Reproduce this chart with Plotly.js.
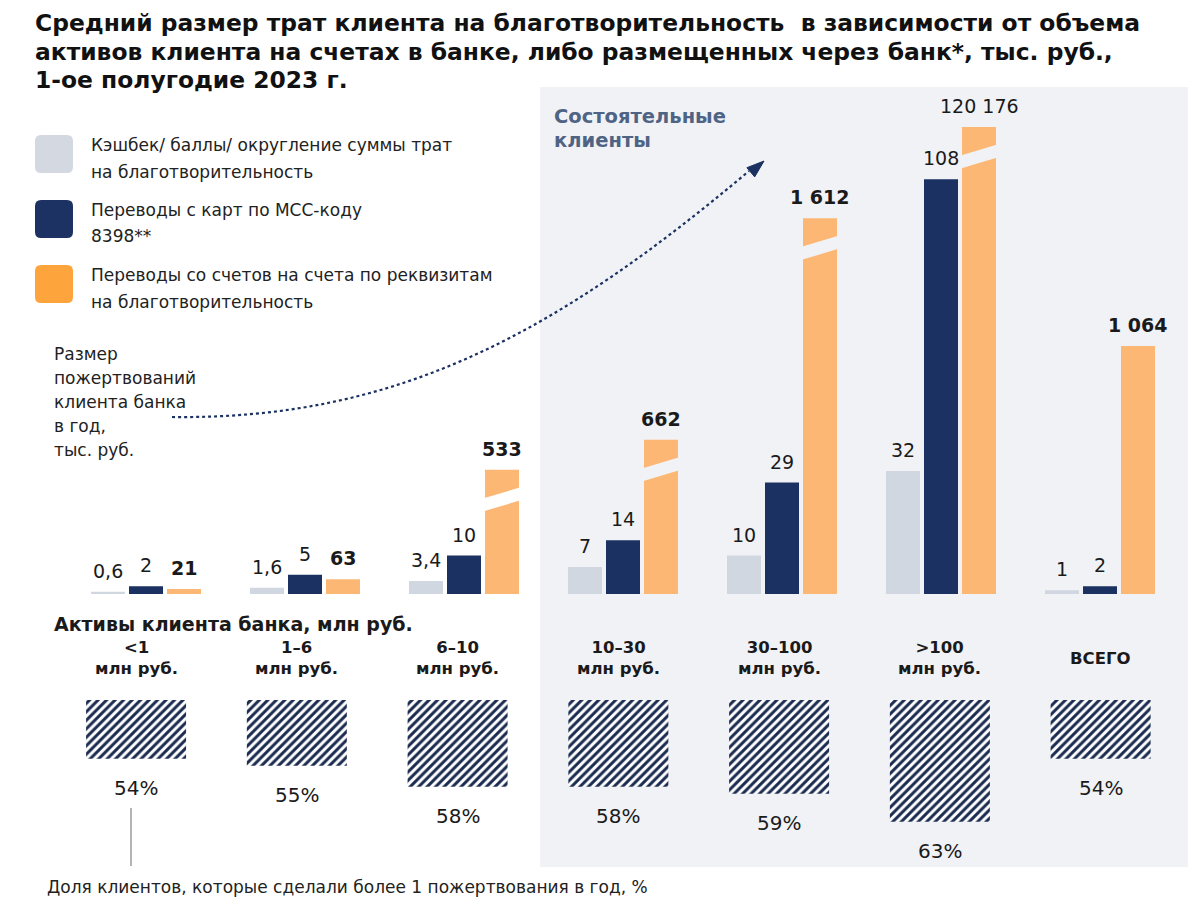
<!DOCTYPE html>
<html>
<head>
<meta charset="utf-8">
<script src="https://cdn.plot.ly/plotly-3.0.1.min.js"></script>
<style>
html,body{margin:0;padding:0;background:#ffffff;}
#chart{width:1200px;height:912px;}
</style>
</head>
<body>
<div id="chart"></div>
<script>
// ---------------- DATA ----------------
const categories = ["<1 млн руб.", "1–6 млн руб.", "6–10 млн руб.", "10–30 млн руб.", "30–100 млн руб.", ">100 млн руб.", "ВСЕГО"];
const categoryLabelLines = [["&lt;1", "млн руб."], ["1–6", "млн руб."], ["6–10", "млн руб."], ["10–30", "млн руб."], ["30–100", "млн руб."], ["&gt;100", "млн руб."], ["ВСЕГО"]];
const cashbackValues = [0.6, 1.6, 3.4, 7, 10, 32, 1];            // тыс. руб.
const mccTransferValues = [2, 5, 10, 14, 29, 108, 2];             // тыс. руб.
const accountTransferValues = [21, 63, 533, 662, 1612, 120176, 1064]; // тыс. руб.
const accountBarHasBreak = [false, false, true, true, true, true, false];
const repeatDonorShare = [54, 55, 58, 58, 59, 63, 54];            // %
const seriesNames = [
  ["Кэшбек/ баллы/ округление суммы трат", "на благотворительность"],
  ["Переводы с карт по МСС-коду", "8398**"],
  ["Переводы со счетов на счета по реквизитам", "на благотворительность"]
];
const titleLines = [
  "Средний размер трат клиента на благотворительность  в зависимости от объема",
  "активов клиента на счетах в банке, либо размещенных через банк*, тыс. руб.,",
  "1-ое полугодие 2023 г."
];
const yAxisNoteLines = ["Размер", "пожертвований", "клиента банка", "в год,", "тыс. руб."];
const wealthyLabelLines = ["Состоятельные", "клиенты"];
const assetsHeading = "Активы клиента банка, млн руб.";
const shareFootnote = "Доля клиентов, которые сделали более 1 пожертвования в год, %";

// broken-axis cut: the tallest orange bar is truncated at this axis value
const ACCOUNT_AXIS_CAP = 2004;
const accountDrawn = accountTransferValues.map(v => Math.min(v, ACCOUNT_AXIS_CAP));

// ---------------- STYLE ----------------
const W = 1200, H = 912;
const px = x => x / W;
const py = y => 1 - y / H;
const FONT = "DejaVu Sans";
const C_LIGHT = "#d1d7e1", C_NAVY = "#1b3161", C_ORANGE = "#fdb774";
const C_LEG_LIGHT = "#d3d8e1", C_LEG_NAVY = "#1b3263", C_LEG_ORANGE = "#fea43c";
const C_PANEL = "#f0f2f6", C_TEXT = "#1a1a1a";

const BAR_W = 0.2138, STEP = 0.239;
const offsets = [-STEP, 0, STEP];

function fmt(v) {
  if (!Number.isInteger(v)) return String(v).replace(".", ",");
  return String(v).replace(/\B(?=(\d{3})+(?!\d))/g, "\u00a0");
}

// ---------------- TRACES ----------------
const traces = [
  {type: "bar", x: categories, y: cashbackValues, xaxis: "x", yaxis: "y", width: BAR_W, offset: offsets[0] - BAR_W / 2,
   marker: {color: C_LIGHT}, name: seriesNames[0].join(" "), hoverinfo: "skip", showlegend: false},
  {type: "bar", x: categories, y: mccTransferValues, xaxis: "x", yaxis: "y", width: BAR_W, offset: offsets[1] - BAR_W / 2,
   marker: {color: C_NAVY}, name: seriesNames[1].join(" "), hoverinfo: "skip", showlegend: false},
  {type: "bar", x: categories, y: accountDrawn, xaxis: "x", yaxis: "y2", width: BAR_W, offset: offsets[2] - BAR_W / 2,
   marker: {color: C_ORANGE}, name: seriesNames[2].join(" "), hoverinfo: "skip", showlegend: false},
  {type: "bar", x: categories, y: repeatDonorShare, xaxis: "x2", yaxis: "y3", width: 0.622,
   marker: {color: "#ffffff", pattern: {shape: "/", fgcolor: "#1b2b4f", bgcolor: "#ffffff", size: 6, solidity: 0.5}},
   name: "Доля клиентов", hoverinfo: "skip", showlegend: false}
];

// ---------------- ANNOTATIONS ----------------
const annotations = [];
function txt(x, y, text, size, weight, color) {
  annotations.push({xref: "paper", yref: "paper", x: px(x), y: py(y), text: text, showarrow: false,
    xanchor: "left", yanchor: "middle", align: "left",
    font: {family: FONT, size: size, weight: weight || 400, color: color || "#222222"}});
}

// title
titleLines.forEach((l, j) => txt(33, [23, 52, 80][j], l, 23.4, 700, "#111111"));

// value labels above bars
const valueSeries = [cashbackValues, mccTransferValues, accountTransferValues];
valueSeries.forEach((vals, s) => {
  vals.forEach((v, i) => {
    const bold = s === 2 && v <= ACCOUNT_AXIS_CAP;
    annotations.push({xref: "x", yref: s < 2 ? "y" : "y2", x: i + offsets[s], y: s < 2 ? v : accountDrawn[i],
      yshift: 21, text: bold ? "<b>" + fmt(v) + "</b>" : fmt(v), showarrow: false, xanchor: "center", yanchor: "middle",
      font: {family: FONT, size: 19, color: C_TEXT}});
  });
});

// percentage labels below hatch bars
repeatDonorShare.forEach((p, i) => {
  annotations.push({xref: "x2", yref: "y3", x: categories[i], y: p, yshift: -29, text: p + "%", showarrow: false,
    xanchor: "center", yanchor: "middle", font: {family: FONT, size: 20, color: C_TEXT}});
});

// category labels
categoryLabelLines.forEach((lines, i) => {
  annotations.push({xref: "x2", yref: "paper", x: categories[i], y: py(658), text: lines.join("<br>"), showarrow: false,
    xanchor: "center", yanchor: "middle", align: "center", font: {family: FONT, size: 16.5, weight: 700, color: C_TEXT}});
});

// legend texts
const legendLineY = [[145, 172], [210, 236], [275, 302]];
seriesNames.forEach((lines, k) => lines.forEach((l, j) => txt(89, legendLineY[k][j], l, 17)));

// side note
yAxisNoteLines.forEach((l, j) => txt(52, 354 + 24 * j, l, 17));

// wealthy panel title
wealthyLabelLines.forEach((l, j) => txt(552, 117 + 24 * j, l, 19.5, 700, "#4f6384"));

// assets heading
txt(52, 624, assetsHeading, 19, 700, C_TEXT);

// footnote
txt(45, 887, shareFootnote, 17);

// ---------------- SHAPES ----------------
const shapes = [];
// wealthy clients panel
shapes.push({type: "rect", xref: "paper", yref: "paper", x0: px(540), x1: px(1188), y0: py(867), y1: py(87),
  fillcolor: C_PANEL, line: {width: 0}, layer: "below"});

// legend swatches (rounded)
function roundRect(x0, y0, x1, y1, r) {
  const P = (x, y) => px(x) + "," + py(y);
  return "M" + P(x0 + r, y0) + " L" + P(x1 - r, y0) + " Q" + P(x1, y0) + " " + P(x1, y0 + r) +
    " L" + P(x1, y1 - r) + " Q" + P(x1, y1) + " " + P(x1 - r, y1) + " L" + P(x0 + r, y1) +
    " Q" + P(x0, y1) + " " + P(x0, y1 - r) + " L" + P(x0, y0 + r) + " Q" + P(x0, y0) + " " + P(x0 + r, y0) + " Z";
}
[[C_LEG_LIGHT, 135], [C_LEG_NAVY, 200], [C_LEG_ORANGE, 265]].forEach(([c, y]) => {
  shapes.push({type: "path", xref: "paper", yref: "paper", path: roundRect(35, y, 73, y + 38, 6), fillcolor: c, line: {width: 0}});
});

// axis breaks on the orange bars
accountBarHasBreak.forEach((b, i) => {
  if (!b) return;
  shapes.push({type: "path", xref: "x", yref: "y2", xsizemode: "pixel", ysizemode: "pixel",
    xanchor: i + offsets[2], yanchor: accountDrawn[i],
    path: "M-20,-29 L20,-17 L20,-30 L-20,-42 Z",
    fillcolor: i >= 3 ? C_PANEL : "#ffffff", line: {width: 0}});
});

// dotted curved arrow
const P = (x, y) => px(x) + "," + py(y);
shapes.push({type: "path", xref: "paper", yref: "paper",
  path: "M" + P(172, 417) + " C" + P(400, 420) + " " + P(560, 330) + " " + P(749, 171),
  line: {color: C_NAVY, width: 2.2, dash: "dot"}});
shapes.push({type: "path", xref: "paper", yref: "paper",
  path: "M" + P(764, 161) + " L" + P(754.7, 176.9) + " L" + P(746.9, 167.7) + " Z",
  fillcolor: C_NAVY, line: {color: C_NAVY, width: 1}});

// thin leader line for the share footnote
shapes.push({type: "line", xref: "paper", yref: "paper", x0: px(131), x1: px(131), y0: py(808), y1: py(866),
  line: {color: "#9a9a9a", width: 1.5}});

// ---------------- LAYOUT ----------------
const hidden = {visible: false, showgrid: false, zeroline: false, fixedrange: true};
const layout = {
  width: W, height: H, autosize: false,
  margin: {l: 0, r: 0, t: 0, b: 0, pad: 0},
  paper_bgcolor: "#ffffff", plot_bgcolor: "rgba(0,0,0,0)",
  barmode: "overlay", showlegend: false,
  xaxis: Object.assign({}, hidden, {type: "category", categoryarray: categories, categoryorder: "array",
    domain: [px(66.5), px(1179.5)], range: [-0.5, 6.5], anchor: "y"}),
  yaxis: Object.assign({}, hidden, {domain: [py(594), py(100)], range: [0, 128.6], anchor: "x"}),
  yaxis2: Object.assign({}, hidden, {overlaying: "y", range: [0, 2120], anchor: "x"}),
  xaxis2: Object.assign({}, hidden, {type: "category", categoryarray: categories, categoryorder: "array",
    domain: [px(55.7), px(1181)], range: [-0.5, 6.5], anchor: "y3"}),
  yaxis3: Object.assign({}, hidden, {domain: [py(870), py(700)], range: [69.9, 45.6], anchor: "x2"}),
  annotations: annotations,
  shapes: shapes,
  font: {family: FONT, color: C_TEXT}
};

Plotly.newPlot("chart", traces, layout, {staticPlot: true, displayModeBar: false});
</script>
</body>
</html>
